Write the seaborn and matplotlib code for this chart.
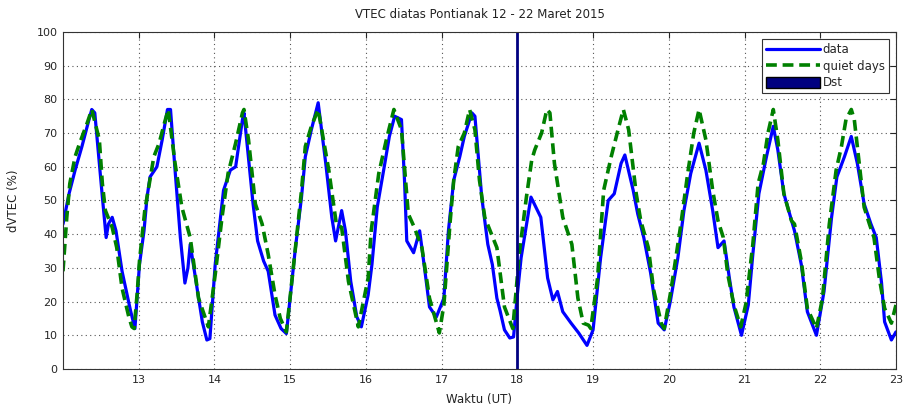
import matplotlib
matplotlib.use("Agg")
import matplotlib.pyplot as plt
from matplotlib.patches import Patch
from matplotlib.lines import Line2D
import seaborn as sns
import pandas as pd

# ---- data ----
data_t = [12.00, 12.08, 12.16, 12.25, 12.32, 12.38, 12.42, 12.52, 12.57, 12.60, 12.65, 12.70,
          12.78, 12.89, 12.95, 13.01, 13.07, 13.11, 13.15, 13.24, 13.31, 13.38,
          13.42, 13.48, 13.55, 13.61, 13.65, 13.68, 13.75, 13.84, 13.90, 13.94,
          14.01, 14.12, 14.21, 14.28, 14.37, 14.39, 14.51, 14.57, 14.65, 14.71, 14.80,
          14.88, 14.95, 15.07, 15.15, 15.20, 15.28, 15.37, 15.47, 15.55, 15.60, 15.68,
          15.73, 15.80, 15.88, 15.94, 16.03, 16.08, 16.15, 16.25, 16.31, 16.38, 16.47,
          16.51, 16.54, 16.63, 16.71, 16.78, 16.84, 16.93, 17.03, 17.09, 17.16, 17.24,
          17.30, 17.40, 17.44, 17.53, 17.61, 17.67, 17.73, 17.77, 17.83, 17.90, 17.95,
          18.00, 18.05, 18.10, 18.18, 18.31, 18.40, 18.47, 18.53, 18.60, 18.71, 18.81,
          18.92, 19.00, 19.10, 19.20, 19.28, 19.37, 19.42, 19.53, 19.59, 19.67, 19.76,
          19.86, 19.94, 20.02, 20.12, 20.20, 20.29, 20.40, 20.49, 20.58, 20.65, 20.73,
          20.80, 20.86, 20.96, 21.05, 21.11, 21.19, 21.29, 21.38, 21.44, 21.52, 21.66,
          21.75, 21.83, 21.95, 22.05, 22.15, 22.22, 22.32, 22.41, 22.49, 22.58, 22.67,
          22.74, 22.81, 22.85, 22.94, 23.00]
data_v = [43, 52, 59, 66, 72, 77, 76, 51, 39, 43, 45, 41,
          29, 17.5, 12, 31, 41, 51, 57, 60, 68, 77,
          77, 59, 39, 25.5, 30, 37, 27, 14, 8.6, 9,
          31, 53, 59, 60, 74, 76, 49, 38, 32, 29, 16,
          12, 10.5, 36, 51, 63, 71, 79, 61, 45, 38, 47,
          41, 26, 15.5, 12.5, 22, 31, 48, 61, 69, 75, 74,
          56, 38, 34.5, 41, 29, 18.4, 15.4, 21, 41, 56, 63,
          69, 76, 75, 51, 37, 31, 21, 17.5, 11.6, 9.2, 9.5,
          22, 33, 40, 51, 45, 27, 20.5, 23, 17, 13.6, 10.7,
          7, 11.6, 33, 50, 52, 61, 63.5, 53, 46, 39, 28.5,
          13.6, 11.6, 20, 33, 47, 58, 67, 59, 47, 36, 38,
          27, 18.4, 10, 19, 34, 52, 63, 72, 65, 52, 41,
          31, 17, 10, 23, 45, 57, 63, 69, 61, 49, 43,
          39, 25.5, 14, 8.6, 11]

quiet_t = [12.00, 12.05, 12.09, 12.16, 12.22, 12.32, 12.38, 12.48, 12.52, 12.56, 12.65, 12.71,
           12.78, 12.87, 12.91, 12.94, 12.98, 13.01, 13.08, 13.14, 13.20, 13.27, 13.34, 13.39,
           13.48, 13.57, 13.68, 13.79, 13.92, 14.01, 14.10, 14.18, 14.28, 14.37, 14.39,
           14.45, 14.54, 14.63, 14.71, 14.80, 14.87, 14.95, 15.07, 15.15, 15.20, 15.28, 15.37,
           15.51, 15.61, 15.68, 15.77, 15.90, 16.03, 16.07, 16.17, 16.27, 16.37, 16.47, 16.56,
           16.64, 16.74, 16.84, 16.97, 17.03, 17.11, 17.16, 17.22, 17.30, 17.37, 17.44, 17.50,
           17.57, 17.73, 17.83, 17.94, 18.03, 18.12, 18.19, 18.23, 18.32, 18.39, 18.43, 18.49,
           18.60, 18.72, 18.80, 18.87, 18.94, 18.97, 19.06, 19.14, 19.24, 19.33, 19.40, 19.47,
           19.57, 19.63, 19.73, 19.80, 19.90, 19.94, 20.03, 20.16, 20.25, 20.33, 20.40, 20.49,
           20.58, 20.65, 20.72, 20.78, 20.86, 20.95, 21.02, 21.11, 21.18, 21.25, 21.31, 21.38,
           21.44, 21.52, 21.62, 21.66, 21.75, 21.83, 21.95, 22.03, 22.12, 22.21, 22.28, 22.34,
           22.41, 22.45, 22.52, 22.58, 22.65, 22.71, 22.78, 22.85, 22.94, 23.00]
quiet_v = [29, 45, 55, 63, 67, 73, 77, 68, 55, 47, 42, 36,
           24, 15.4, 12.5, 12, 22.5, 32, 47, 55, 63, 67, 73, 77,
           61, 48, 39, 21, 12.5, 28, 45, 58, 67, 76, 77,
           68, 49, 43, 34, 22, 15, 11, 36, 53, 66, 72, 77,
           59, 43, 42, 26, 12.5, 27, 41, 58, 68, 77, 71, 46,
           42, 36, 21, 10.7, 19, 43, 56, 66, 70, 77, 71, 56,
           45, 36, 18.4, 12, 35, 51, 62, 65, 70, 77, 76, 61,
           45, 37, 21, 13.6, 13, 12, 27, 53, 63, 71, 77, 71,
           52, 44, 36, 23.5, 13.6, 12, 23.5, 43, 58, 70, 77, 68,
           53, 44, 39, 28, 19, 12.5, 19.5, 37, 55, 61, 70, 77,
           68, 52, 44, 43, 32, 18, 12, 21, 43, 59, 66, 74,
           77, 74, 60, 48, 43, 39, 27, 18, 13.6, 19]

dst_time = [18.0]

x_ticks = [13, 14, 15, 16, 17, 18, 19, 20, 21, 22, 23]
y_ticks = [0, 10, 20, 30, 40, 50, 60, 70, 80, 90, 100]

df_data = pd.DataFrame({"t": data_t, "v": data_v})
df_quiet = pd.DataFrame({"t": quiet_t, "v": quiet_v})

sns.set_style("white")
plt.rcParams["font.family"] = ["DejaVu Sans"]

fig = plt.figure(figsize=(9.05, 4.12), dpi=100)
ax = fig.add_axes([0.0696, 0.1044, 0.9204, 0.8180])

dash = (0, (3.0, 1.6))
sns.lineplot(data=df_data, x="t", y="v", ax=ax, color="#0000FF", linewidth=2.3,
             estimator=None, sort=False)
sns.lineplot(data=df_quiet, x="t", y="v", ax=ax, color="#008000", linewidth=2.6,
             estimator=None, sort=False, linestyle=dash)
for d in dst_time:
    ax.axvline(d, color="#000080", linewidth=2.0)

ax.set_xlim(12, 23)
ax.set_ylim(0, 100)
ax.set_xticks(x_ticks)
ax.set_yticks(y_ticks)
ax.tick_params(direction="in", top=True, right=True, labelsize=8, length=4, pad=4,
               colors="#262626")
ax.grid(True, linestyle=(0, (1, 3)), color="#555555", linewidth=0.8)
for s in ax.spines.values():
    s.set_color("#333333")
    s.set_linewidth(0.8)

ax.set_title("VTEC diatas Pontianak 12 - 22 Maret 2015", fontsize=8.5, pad=10, color="#222222")
ax.set_xlabel("Waktu (UT)", fontsize=8.5, labelpad=6, color="#222222")
ax.set_ylabel("dVTEC (%)", fontsize=8.5, labelpad=12, color="#222222")

handles = [Line2D([0], [0], color="#0000FF", linewidth=2.3),
           Line2D([0], [0], color="#008000", linewidth=2.6, linestyle=dash),
           Patch(facecolor="#000080", edgecolor="#000000")]
leg = ax.legend(handles, ["data", "quiet days", "Dst"], loc="upper right",
                fontsize=8.5, frameon=True, fancybox=False, borderpad=0.35,
                labelspacing=0.3, handlelength=4.6, handleheight=1.0, handletextpad=0.2,
                borderaxespad=0.6, framealpha=1)
leg.get_frame().set_edgecolor("#333333")
leg.get_frame().set_linewidth(0.8)

fig.savefig("out.png", dpi=100)
